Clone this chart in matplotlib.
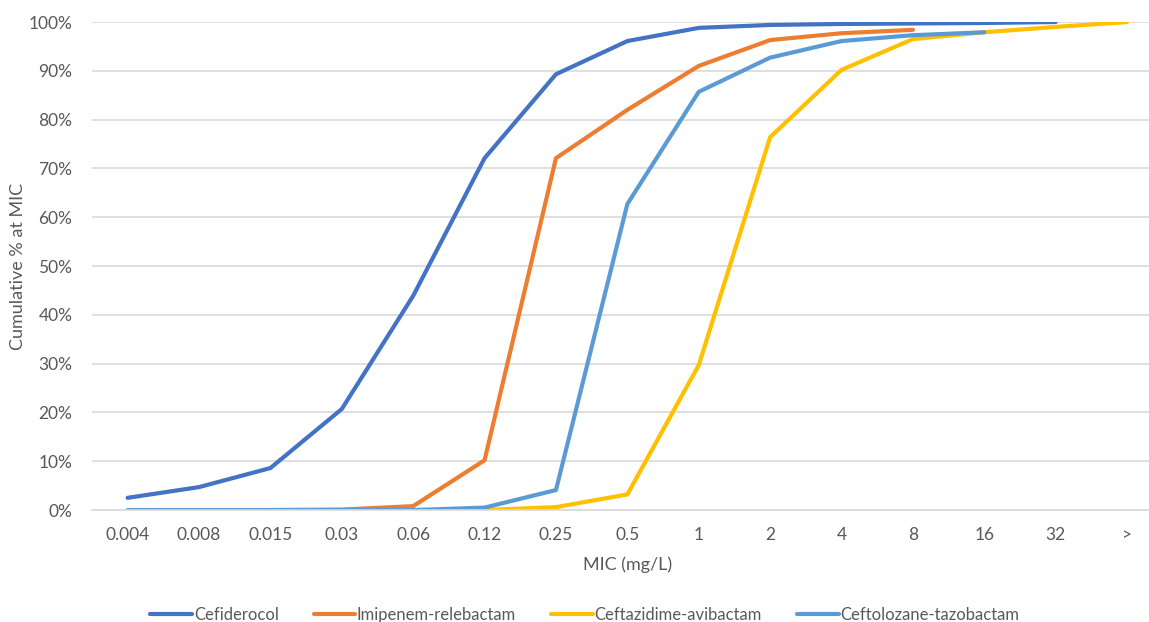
import numpy as np
import matplotlib
matplotlib.use('Agg')
import matplotlib.pyplot as plt

plt.rcParams['font.family'] = ['Lato', 'DejaVu Sans']

mic_labels = ['0.004', '0.008', '0.015', '0.03', '0.06', '0.12', '0.25', '0.5',
              '1', '2', '4', '8', '16', '32', '>']

# cumulative % (None = no data at that MIC)
cefiderocol = [2.5, 4.7, 8.6, 20.7, 43.9, 72.1, 89.3, 96.1, 98.8, 99.4, 99.6, 99.7, 99.8, 100, None]
imipenem_relebactam = [None, None, 0, 0.1, 0.8, 10.2, 72.1, 82.0, 91.0, 96.3, 97.7, 98.4, None, None, None]
ceftazidime_avibactam = [None, None, None, None, None, 0, 0.6, 3.2, 29.7, 76.4, 90.2, 96.5, 97.9, 99.0, 100]
ceftolozane_tazobactam = [0, 0, 0, 0, 0, 0.5, 4.1, 62.7, 85.7, 92.7, 96.1, 97.3, 97.9, None, None]

series = [
    ('Cefiderocol', cefiderocol, '#4472C4'),
    ('Imipenem-relebactam', imipenem_relebactam, '#ED7D31'),
    ('Ceftazidime-avibactam', ceftazidime_avibactam, '#FFC000'),
    ('Ceftolozane-tazobactam', ceftolozane_tazobactam, '#5B9BD5'),
]

fig = plt.figure(figsize=(11.49, 6.22), dpi=100)
ax = fig.add_axes([0.080, 0.18, 0.932, 0.7846])

x = np.arange(len(mic_labels))
for name, vals, color in series:
    y = np.array([np.nan if v is None else v / 100 for v in vals])
    ax.plot(x, y, color=color, linewidth=3, label=name, solid_capstyle='round')

ax.set_xlim(-0.5, len(mic_labels) - 0.5)
ax.set_ylim(0, 1)
ax.set_yticks(np.arange(0, 1.01, 0.1))
ax.set_yticklabels([f'{int(round(t * 100))}%' for t in np.arange(0, 1.01, 0.1)])
ax.set_xticks(x)
ax.set_xticklabels(mic_labels)

ax.grid(axis='y', color='#D9D9D9', linewidth=1.2)
ax.set_axisbelow(True)
for s in ['top', 'right', 'left']:
    ax.spines[s].set_visible(False)
ax.spines['bottom'].set_color('#D9D9D9')
ax.spines['bottom'].set_linewidth(1.2)
ax.tick_params(axis='both', length=0, labelsize=12.5, colors='#595959', pad=12)
ax.tick_params(axis='y', pad=14)

ax.set_xlabel('MIC (mg/L)', fontsize=13, color='#595959', labelpad=10)
ax.set_ylabel('Cumulative % at MIC', fontsize=13, color='#595959', labelpad=8)
ax.yaxis.set_label_coords(-0.062, 0.5)

fig.legend(loc='center', bbox_to_anchor=(0.509, 0.011), ncol=4, frameon=False,
           fontsize=12, handlelength=2.5, columnspacing=2.1, handletextpad=0.1,
           labelcolor='#595959')

fig.savefig('out.png', dpi=100)
